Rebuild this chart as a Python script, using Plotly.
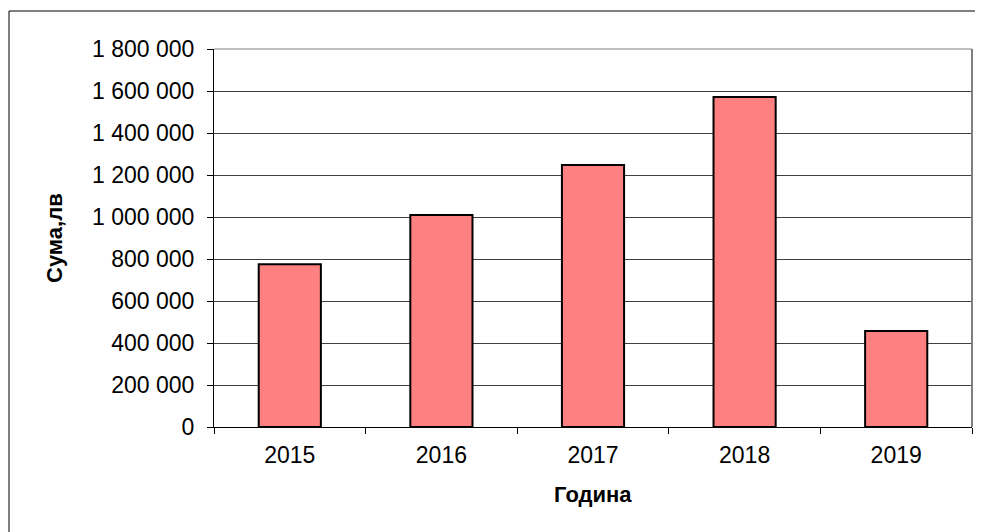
import plotly.graph_objects as go

years = ["2015", "2016", "2017", "2018", "2019"]
amounts = [775000, 1010000, 1248000, 1571000, 457000]
y_ticks = [0, 200000, 400000, 600000, 800000, 1000000, 1200000, 1400000, 1600000, 1800000]

fig = go.Figure(go.Bar(
    x=years, y=amounts,
    marker=dict(color="#FF8080", line=dict(color="#000000", width=2)),
))

# page body has an 8px margin; figure drawn at (8,8)
W, H = 975, 524
L, R, T, B = 206, 11, 41, 105
pw, ph = W - L - R, H - T - B

fig.update_layout(
    width=W, height=H,
    margin=dict(l=L, r=R, t=T, b=B, pad=0),
    paper_bgcolor="white", plot_bgcolor="white",
    bargap=0.59,
    separators=". ",
    showlegend=False,
    font=dict(family="Liberation Sans, Arial", size=23, color="#000"),
    xaxis=dict(
        type="category",
        showline=True, linecolor="#000", linewidth=1,
        ticks="outside", tickson="boundaries", ticklen=6, tickcolor="#000",
        showgrid=False,
        tickfont=dict(size=23),
        ticklabelstandoff=7,
    ),
    yaxis=dict(
        range=[0, 1800000],
        tickvals=y_ticks, tickformat=",d",
        showline=True, linecolor="#000", linewidth=1,
        ticks="outside", ticklen=6, tickcolor="#000",
        showgrid=True, gridcolor="#404040", gridwidth=1,
        zeroline=False,
        tickfont=dict(size=23),
        ticklabelstandoff=8,
    ),
    annotations=[
        dict(text="<b>Сума,лв</b>", xref="paper", yref="paper",
             x=(46 - L) / pw, y=0.5, textangle=-90, showarrow=False,
             xanchor="center", yanchor="middle", font=dict(size=22)),
        dict(text="<b>Година</b>", xref="paper", yref="paper",
             x=0.5, y=(H - B - 486) / ph, showarrow=False,
             xanchor="center", yanchor="middle", font=dict(size=22)),
    ],
    shapes=[
        dict(type="line", xref="paper", yref="paper", x0=0, x1=1, y0=1, y1=1,
             line=dict(color="#808080", width=1)),
        dict(type="line", xref="paper", yref="paper", x0=1, x1=1, y0=0, y1=1,
             line=dict(color="#808080", width=2)),
        dict(type="rect", xref="paper", yref="paper",
             x0=(1 - L) / pw, x1=(W + 20 - L) / pw,
             y0=-(B + 20) / ph, y1=(H - B - 3) / ph,
             line=dict(color="#000", width=1), fillcolor="rgba(0,0,0,0)", layer="below"),
    ],
)

fig.write_html("out.html")
